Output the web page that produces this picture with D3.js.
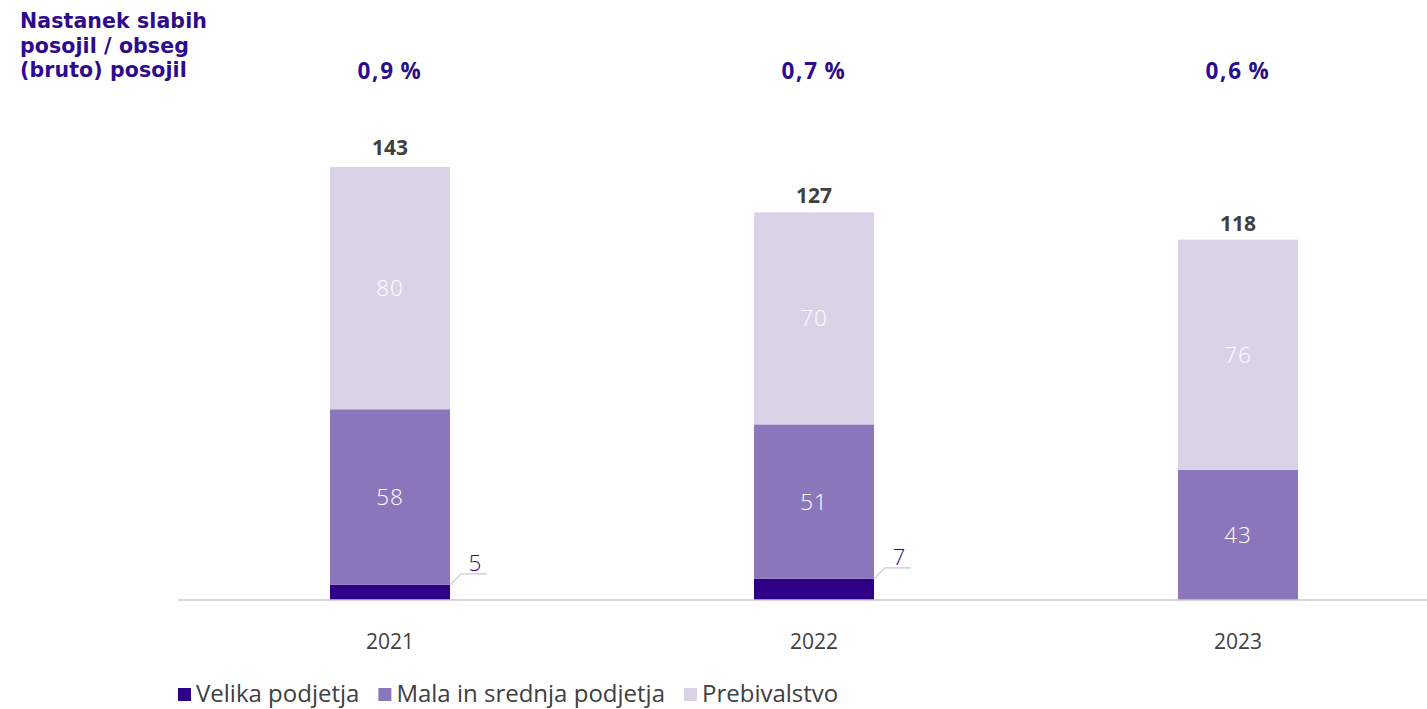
<!DOCTYPE html>
<html><head><meta charset="utf-8">
<script src="https://cdn.jsdelivr.net/npm/d3@7"></script>
<style>body{margin:0;background:#fff}svg{display:block}text{font-family:"Open Sans",sans-serif}</style>
</head><body>
<svg id="c" width="1427" height="709"></svg>
<script>
const years = ["2021","2022","2023"];
const velika = [5,7,0];
const mala = [58,51,43];
const prebivalstvo = [80,70,76];
const totals = [143,127,118];
const ratios = ["0,9\u2009%","0,7\u2009%","0,6\u2009%"];
const seriesNames = ["Velika podjetja","Mala in srednja podjetja","Prebivalstvo"];
const colors = ["#2e0087","#8b76bb","#dad3e8"];
const titleLines = ["Nastanek slabih","posojil / obseg","(bruto) posojil"];

const svg = d3.select("#c");
const x = d3.scaleBand().domain(years).range([178,1450]).paddingInner(0.717).paddingOuter(0.3585);
const y = d3.scaleLinear().domain([0,143]).range([600,167]);

const data = years.map((yr,i)=>({year:yr, v0:velika[i], v1:mala[i], v2:prebivalstvo[i]}));
const stack = d3.stack().keys(["v0","v1","v2"])(data);

svg.selectAll("g.s").data(stack).join("g").attr("fill",(d,i)=>colors[i])
  .selectAll("rect").data(d=>d).join("rect")
  .attr("x",d=>x(d.data.year)).attr("width",x.bandwidth())
  .attr("y",d=>y(d[1])).attr("height",d=>y(d[0])-y(d[1]));

// axis
const ax = svg.append("g").attr("transform","translate(0,600)").call(d3.axisBottom(x).tickSize(0).tickPadding(0));
ax.select(".domain").attr("stroke","#c9c9c9").attr("stroke-width",1.5).attr("d","M178,0H1427");
ax.selectAll("text").style("font-family","Open Sans").attr("font-size",21).attr("fill","#404040").attr("dy",null).attr("y",49);

// in-bar labels (mala, prebivalstvo)
[1,2].forEach(k=>{
  svg.append("g").selectAll("text").data(stack[k]).join("text")
    .attr("x",d=>x(d.data.year)+x.bandwidth()/2)
    .attr("y",d=>(y(d[0])+y(d[1]))/2+8)
    .attr("text-anchor","middle").attr("font-size",22.5).attr("font-weight",300)
    .attr("letter-spacing",0.8)
    .attr("fill","#ffffff").text(d=>d[1]-d[0]);
});

// leader labels for velika
stack[0].forEach((d,i)=>{
  const v = d[1]-d[0]; if(!v) return;
  const x0 = x(d.data.year)+x.bandwidth(), y0 = y(d[1]);
  svg.append("path").attr("fill","none").attr("stroke","#c9c9c9").attr("stroke-width",1.2)
    .attr("d",`M${x0},${y0}L${x0+11},${y0-11}H${x0+37}`);
  svg.append("text").attr("x",x0+25).attr("y",y0-14).attr("text-anchor","middle")
    .attr("font-size",22.5).attr("font-weight",300).attr("fill","#2e0b8c").text(v);
});

// totals
svg.append("g").selectAll("text").data(years).join("text")
  .attr("x",d=>x(d)+x.bandwidth()/2).attr("y",(d,i)=>y(totals[i])-12)
  .attr("text-anchor","middle").attr("font-size",21).attr("font-weight",700)
  .attr("fill","#404040").text((d,i)=>totals[i]);

// ratios
svg.append("g").selectAll("text").data(years).join("text")
  .attr("x",d=>x(d)+x.bandwidth()/2).attr("y",79)
  .attr("text-anchor","middle").attr("font-size",22.5).attr("font-weight",700)
  .attr("letter-spacing",1.8)
  .attr("fill","#2e0b8c").text((d,i)=>ratios[i]);

// title
svg.append("g").selectAll("text").data(titleLines).join("text")
  .attr("x",20).attr("y",(d,i)=>28+i*24.5)
  .style("font-family","'DejaVu Sans'").attr("font-size",20.5).attr("font-weight",700)
  .attr("fill","#2e0b8c").attr("letter-spacing",0.1).text(d=>d);

// legend
const lg = svg.append("g");
let lx = 178;
seriesNames.forEach((n,i)=>{
  lg.append("rect").attr("x",lx).attr("y",688).attr("width",13).attr("height",13).attr("fill",colors[i]);
  const t = lg.append("text").attr("x",lx+18).attr("y",702).attr("font-size",24).attr("fill","#404040").text(n);
  lx += 18 + t.node().getComputedTextLength() + 19;
});
</script>
</body></html>
